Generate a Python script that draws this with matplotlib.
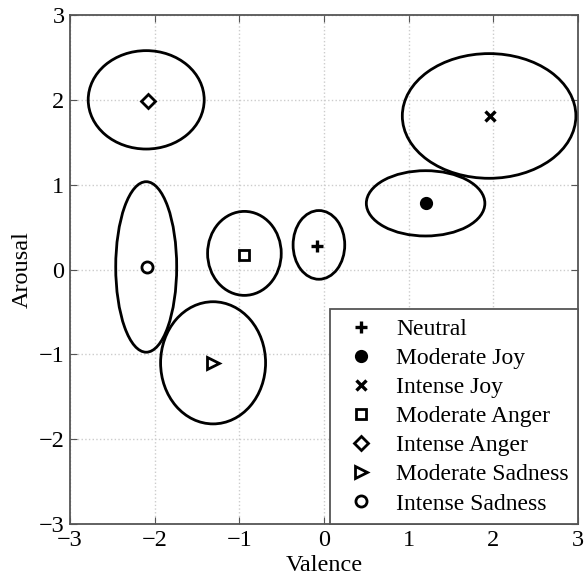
import matplotlib.pyplot as plt
from matplotlib.patches import Ellipse

plt.rcParams["font.family"] = ["Liberation Serif", "DejaVu Serif"]

# emotion centres and ellipse sizes (valence, arousal)
labels = ["Neutral", "Moderate Joy", "Intense Joy", "Moderate Anger",
          "Intense Anger", "Moderate Sadness", "Intense Sadness"]
valence = [-0.08, 1.21, 1.96, -0.95, -2.08, -1.31, -2.09]
arousal = [0.28, 0.78, 1.81, 0.17, 1.99, -1.10, 0.03]
ell_x = [-0.06, 1.20, 1.95, -0.94, -2.10, -1.31, -2.10]
ell_y = [0.29, 0.78, 1.81, 0.19, 2.00, -1.10, 0.03]
ell_w = [0.61, 1.40, 2.05, 0.87, 1.37, 1.24, 0.72]
ell_h = [0.81, 0.77, 1.47, 0.99, 1.16, 1.44, 2.01]

markers = ["+", "o", "x", "s", "D", ">", "o"]
filled = [True, True, True, False, False, False, False]
msizes = [9, 7.5, 7, 7, 7, 8, 8]

fig = plt.figure(figsize=(5.84, 5.79), dpi=100)
ax = fig.add_axes([70 / 584, 55 / 579, 508 / 584, 509 / 579])

for cx, cy, w, h in zip(ell_x, ell_y, ell_w, ell_h):
    ax.add_patch(Ellipse((cx, cy), w, h, fill=False, edgecolor="black", linewidth=2.0, zorder=3))

for i, lab in enumerate(labels):
    if markers[i] in ("+", "x"):
        ax.plot(valence[i], arousal[i], linestyle="none", marker=markers[i], color="black",
                markersize=msizes[i], markeredgewidth=2.4, label=lab, zorder=4)
    else:
        ax.plot(valence[i], arousal[i], linestyle="none", marker=markers[i],
                markerfacecolor="black" if filled[i] else "white",
                markeredgecolor="black", markeredgewidth=2.0,
                markersize=msizes[i], label=lab, zorder=4)

ax.set_xlim(-3, 3)
ax.set_ylim(-3, 3)
ax.set_xticks(range(-3, 4))
ax.set_yticks(range(-3, 4))
ax.set_xticklabels(["\u22123", "\u22122", "\u22121", "0", "1", "2", "3"])
ax.set_yticklabels(["\u22123", "\u22122", "\u22121", "0", "1", "2", "3"])
ax.tick_params(direction="in", top=True, right=True, labelsize=17.5, length=5,
               color="#555555", pad=4)
ax.grid(True, linestyle=":", color="#cccccc", linewidth=1.0)
for s in ax.spines.values():
    s.set_color("#555555")
    s.set_linewidth(1.3)

ax.set_xlabel("Valence", fontsize=17.5, labelpad=3)
ax.set_ylabel("Arousal", fontsize=17.5, labelpad=4)

leg = ax.legend(loc="lower right", fontsize=17, frameon=True, fancybox=False,
                borderaxespad=0, handletextpad=0.6, labelspacing=0.32,
                borderpad=0.4, handlelength=1.8)
leg.get_frame().set_edgecolor("#555555")
leg.get_frame().set_linewidth(1.3)
leg.get_frame().set_alpha(1)

fig.savefig("out.png", dpi=100)
